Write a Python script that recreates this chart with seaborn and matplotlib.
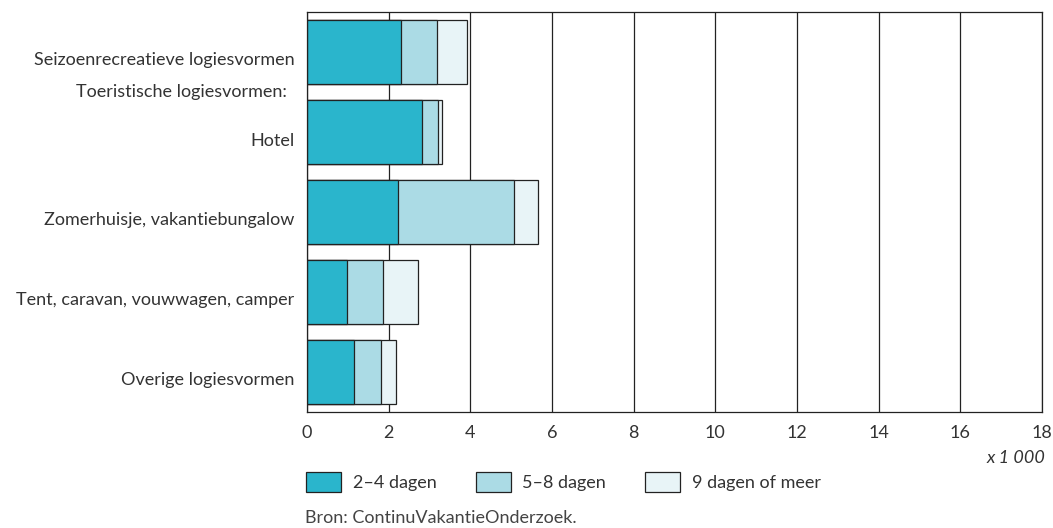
import pandas as pd
import matplotlib.pyplot as plt
import seaborn as sns
from matplotlib.patches import Patch
from matplotlib.transforms import ScaledTranslation

categories = ['Seizoenrecreatieve logiesvormen', 'Hotel', 'Zomerhuisje, vakantiebungalow',
              'Tent, caravan, vouwwagen, camper', 'Overige logiesvormen']
dagen_2_4 = [2.30, 2.82, 2.23, 0.98, 1.15]
dagen_5_8 = [0.88, 0.39, 2.84, 0.88, 0.66]
dagen_9_plus = [0.74, 0.10, 0.59, 0.86, 0.37]
series_labels = ['2–4 dagen', '5–8 dagen', '9 dagen of meer']
colors = ['#2ab5cc', '#abdbe5', '#e8f4f7']
x_ticks = [0, 2, 4, 6, 8, 10, 12, 14, 16, 18]

sns.set_theme(style='white')
plt.rcParams['font.family'] = ['Lato', 'DejaVu Sans']
fs = 13
txt = '#333333'

df = pd.DataFrame({'cat': categories, 'a': dagen_2_4, 'b': dagen_5_8, 'c': dagen_9_plus})
df['ab'] = df['a'] + df['b']
df['abc'] = df['ab'] + df['c']

fig = plt.figure(figsize=(10.53, 5.28), dpi=100)
ax = fig.add_axes([307 / 1053, 1 - 412 / 528, (1042 - 307) / 1053, 400 / 528])

# stacked by overlaying cumulative totals
for col, color in zip(['abc', 'ab', 'a'], colors[::-1]):
    sns.barplot(data=df, x=col, y='cat', order=categories, color=color, width=0.8,
                edgecolor='#222222', linewidth=0.9, saturation=1, ax=ax)

ax.set_xlim(0, 18)
ax.set_ylim(4.5, -0.5)
ax.set_xticks(x_ticks)
ax.set_xlabel('')
ax.set_ylabel('')
ax.grid(axis='x', color='#222222', linewidth=0.9)
ax.set_axisbelow(True)
ax.tick_params(axis='x', length=0, pad=9, labelsize=fs, colors=txt)
ax.tick_params(axis='y', length=0, pad=9, labelsize=fs, colors=txt)
for s in ax.spines.values():
    s.set_color('#222222')
    s.set_linewidth(0.9)
# labels sit a little below the bar centres in the original
for lab in ax.get_yticklabels():
    lab.set_transform(lab.get_transform() + ScaledTranslation(0, -0.07, fig.dpi_scale_trans))

ax.text(-20 / 735, 0.5, 'Toeristische logiesvormen:', transform=ax.get_yaxis_transform(),
        ha='right', va='center', fontsize=fs, color=txt)
ax.text(1.005, -0.115, 'x 1 000', transform=ax.transAxes, ha='right', va='center',
        fontsize=fs, style='italic', color=txt)

handles = [Patch(facecolor=c, edgecolor='#222222', linewidth=0.9) for c in colors]
fig.legend(handles, series_labels, loc='upper left', bbox_to_anchor=(306 / 1053, 1 - 472 / 528),
           ncol=3, frameon=False, fontsize=fs, handlelength=1.95, handleheight=1.3,
           handletextpad=0.65, columnspacing=2.15, borderpad=0, borderaxespad=0,
           labelcolor=txt)
fig.text(305 / 1053, 1 - 518 / 528, 'Bron: ContinuVakantieOnderzoek.', ha='left', va='center',
         fontsize=fs, color='#444444')

fig.savefig('out.png', dpi=100)
